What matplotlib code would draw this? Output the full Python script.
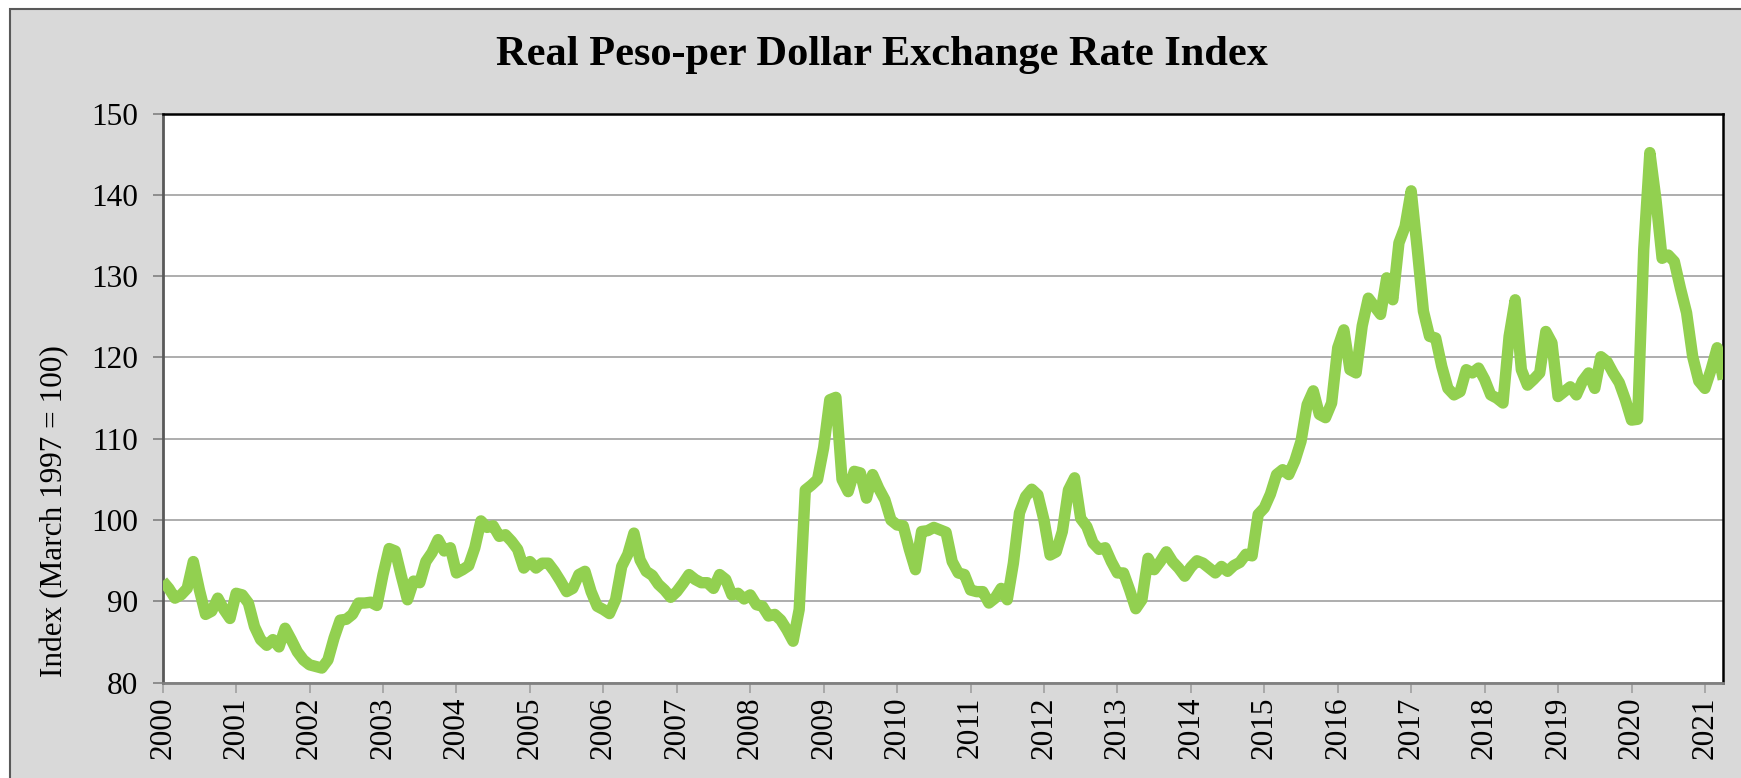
import numpy as np
import matplotlib
matplotlib.use('Agg')
import matplotlib.pyplot as plt
from matplotlib.patches import Rectangle

# monthly real exchange rate index, Jan 2000 - Apr 2021
y2000 = [92.5, 91.6, 90.4, 90.8, 91.6, 94.9, 91.4, 88.4, 88.8, 90.4, 89.0, 87.9]
y2001 = [91.0, 90.8, 89.8, 86.9, 85.3, 84.6, 85.3, 84.4, 86.7, 85.3, 83.8, 82.8]
y2002 = [82.2, 82.0, 81.8, 82.8, 85.5, 87.7, 87.8, 88.4, 89.8, 89.8, 89.9, 89.5]
y2003 = [93.3, 96.5, 96.2, 93.1, 90.2, 92.5, 92.3, 94.9, 96.0, 97.6, 96.2, 96.6]
y2004 = [93.5, 93.9, 94.4, 96.6, 99.9, 99.1, 99.3, 98.0, 98.2, 97.4, 96.4, 94.1]
y2005 = [94.9, 94.1, 94.7, 94.7, 93.7, 92.5, 91.2, 91.6, 93.3, 93.7, 91.2, 89.4]
y2006 = [89.0, 88.5, 90.2, 94.3, 95.8, 98.4, 95.1, 93.7, 93.2, 92.1, 91.4, 90.5]
y2007 = [91.2, 92.2, 93.3, 92.7, 92.3, 92.3, 91.6, 93.3, 92.7, 90.8, 91.0, 90.3]
y2008 = [90.8, 89.6, 89.4, 88.2, 88.4, 87.7, 86.5, 85.1, 89.0, 103.7, 104.3, 105.0]
y2009 = [108.9, 114.8, 115.1, 105.0, 103.5, 106.0, 105.8, 102.7, 105.6, 103.9, 102.5, 100.0]
y2010 = [99.4, 99.3, 96.4, 93.9, 98.6, 98.7, 99.1, 98.8, 98.5, 94.9, 93.5, 93.3]
y2011 = [91.4, 91.2, 91.2, 89.8, 90.4, 91.6, 90.2, 94.7, 100.9, 102.9, 103.8, 103.1]
y2012 = [100.0, 95.7, 96.1, 98.6, 103.7, 105.2, 100.2, 99.2, 97.2, 96.4, 96.6, 94.9]
y2013 = [93.5, 93.5, 91.4, 89.1, 90.2, 95.3, 93.9, 94.9, 96.1, 94.9, 94.1, 93.1]
y2014 = [94.2, 95.0, 94.7, 94.1, 93.5, 94.3, 93.7, 94.4, 94.8, 95.8, 95.6, 100.7]
y2015 = [101.5, 103.2, 105.6, 106.2, 105.6, 107.3, 109.7, 114.2, 115.9, 113.0, 112.6, 114.4]
y2016 = [121.2, 123.4, 118.5, 118.1, 123.9, 127.3, 126.3, 125.3, 129.8, 127.1, 134.1, 136.1]
y2017 = [140.5, 133.3, 125.7, 122.6, 122.4, 118.9, 116.2, 115.4, 115.8, 118.5, 118.1, 118.7]
y2018 = [117.3, 115.4, 115.0, 114.4, 122.6, 127.1, 118.5, 116.6, 117.3, 118.1, 123.2, 121.8]
y2019 = [115.2, 115.8, 116.4, 115.4, 117.1, 118.1, 116.2, 120.1, 119.5, 118.1, 116.9, 114.8]
y2020 = [112.3, 112.4, 133.3, 145.2, 139.4, 132.2, 132.6, 131.8, 128.5, 125.5, 120.1, 117.1]
y2021 = [116.2, 118.5, 121.2, 117.3]

year_labels = [str(y) for y in range(2000, 2022)]
y_ticks = [80, 90, 100, 110, 120, 130, 140, 150]

values = (y2000 + y2001 + y2002 + y2003 + y2004 + y2005 + y2006 + y2007 + y2008
          + y2009 + y2010 + y2011 + y2012 + y2013 + y2014 + y2015 + y2016
          + y2017 + y2018 + y2019 + y2020 + y2021)
x = 2000 + np.arange(len(values)) / 12

plt.rcParams['font.family'] = ['Liberation Serif', 'DejaVu Serif']

W, H = 1741, 778
fig = plt.figure(figsize=(W / 100, H / 100), dpi=100, facecolor='white')

# chart area background with border
fig.patches.append(Rectangle((9.5 / W, -0.05), 1.1, 1 - 9 / H + 0.05,
                             transform=fig.transFigure, facecolor='#D9D9D9',
                             edgecolor='#595959', linewidth=1.5, zorder=-5))

left, right, top, bottom = 162.7, 1723.3, 113.6, 682.7
ax = fig.add_axes([left / W, 1 - bottom / H, (right - left) / W, (bottom - top) / H])
ax.set_zorder(2)
ax.set_facecolor('white')

ax.plot(x, values, color='#92D050', linewidth=8.2,
        solid_joinstyle='round', solid_capstyle='butt', zorder=3)

ax.set_xlim(2000, 2000 + (len(values) - 1) / 12)
ax.set_ylim(80, 150)
ax.set_yticks(y_ticks)
ax.set_yticklabels([str(v) for v in y_ticks], fontsize=22.5)
ax.set_xticks(range(2000, 2022))
ax.set_xticklabels(year_labels, rotation=90, fontsize=22.5)

ax.grid(axis='y', color='#A0A0A0', linewidth=1.2)
ax.set_axisbelow(True)

ax.tick_params(axis='y', direction='out', length=7, width=1.2, color='#808080', pad=11)
ax.tick_params(axis='x', direction='out', length=7, width=1.2, color='#A0A0A0', pad=3)

ax.spines['top'].set_color('black')
ax.spines['top'].set_linewidth(1.8)
ax.spines['right'].set_color('black')
ax.spines['right'].set_linewidth(1.8)
ax.spines['left'].set_color('#595959')
ax.spines['left'].set_linewidth(2)
ax.spines['bottom'].set_color('#808080')
ax.spines['bottom'].set_linewidth(2)

fig.text(882 / W, 1 - 55 / H, 'Real Peso-per Dollar Exchange Rate Index',
         fontsize=30.5, fontweight='bold', ha='center', va='center')
fig.text(55 / W, 1 - 511 / H, 'Index (March 1997 = 100)', fontsize=22.5,
         rotation=90, ha='center', va='center')

fig.savefig('out.png', dpi=100, facecolor=fig.get_facecolor())
